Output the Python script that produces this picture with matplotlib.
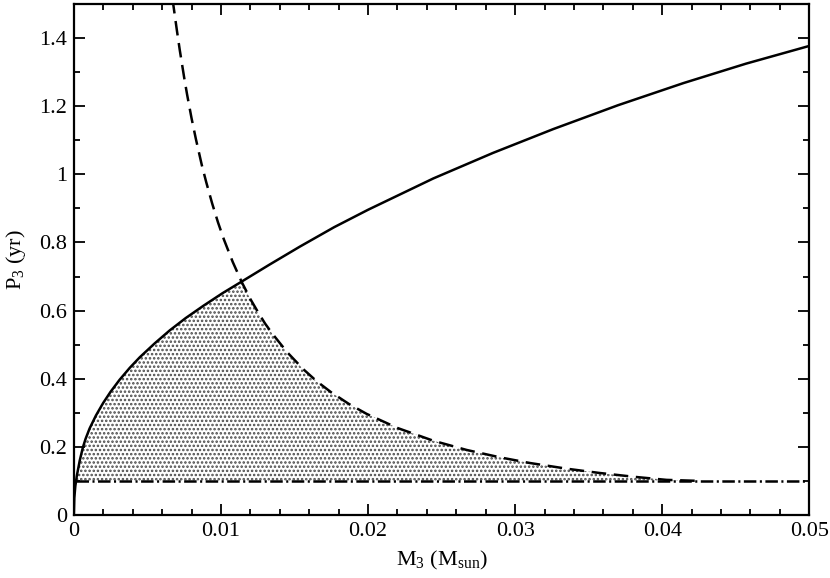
import numpy as np
import matplotlib
matplotlib.use('Agg')
import matplotlib.pyplot as plt
from matplotlib.ticker import MultipleLocator, FuncFormatter

# values
# solid curve (upper limit)
solid_m = np.array([0.0, 0.00003, 0.0001, 0.0002, 0.0004, 0.00061, 0.0008, 0.00107,
                    0.0015, 0.00198, 0.0025, 0.00311, 0.0038, 0.00448, 0.0055, 0.00652,
                    0.0076, 0.0088, 0.0101, 0.0114, 0.0133, 0.01537, 0.0177, 0.0200,
                    0.02444, 0.0285, 0.0326, 0.0370, 0.04145, 0.0457, 0.05])
solid_p = np.array([0.0, 0.050, 0.085, 0.115, 0.160, 0.198, 0.224, 0.254,
                    0.292, 0.328, 0.362, 0.397, 0.432, 0.463, 0.504, 0.542,
                    0.578, 0.614, 0.651, 0.685, 0.735, 0.788, 0.845, 0.896,
                    0.988, 1.063, 1.133, 1.203, 1.268, 1.325, 1.377])

# dashed curve
dash_m = np.array([0.0067, 0.0070, 0.0072, 0.0075, 0.0077, 0.0080, 0.0083, 0.0087,
                   0.0090, 0.0094, 0.0098, 0.0102, 0.0108, 0.0114, 0.0120, 0.0125,
                   0.0130, 0.0135, 0.0145, 0.0156, 0.0165, 0.0175, 0.0187, 0.0199,
                   0.0220, 0.02444, 0.0267, 0.0290, 0.0310, 0.0335, 0.0357, 0.03805,
                   0.0403, 0.0426])
dash_p = np.array([1.517, 1.424, 1.365, 1.284, 1.234, 1.165, 1.103, 1.027,
                   0.977, 0.915, 0.859, 0.809, 0.743, 0.685, 0.634, 0.597,
                   0.562, 0.532, 0.478, 0.428, 0.393, 0.360, 0.326, 0.297,
                   0.2555, 0.218, 0.191, 0.169, 0.1527, 0.136, 0.1236, 0.1123,
                   0.1031, 0.100])

# dash-dot lower limit
low_m = [0.00015, 0.05]
low_p = [0.1, 0.1]

# crossing of solid and dashed
m_cross = 0.0114

plt.rcParams['font.family'] = ['Liberation Serif', 'DejaVu Serif']
plt.rcParams['mathtext.fontset'] = 'custom'
plt.rcParams['mathtext.rm'] = 'Liberation Serif'
plt.rcParams['mathtext.it'] = 'Liberation Serif'
plt.rcParams['lines.scale_dashes'] = False
plt.rcParams['hatch.linewidth'] = 1.2

fig = plt.figure(figsize=(8.3, 5.78), dpi=100)
ax = fig.add_axes([0.089, 0.109, 0.886, 0.884])

# shaded allowed region
up = (solid_m <= m_cross) & (solid_p >= 0.1)
dn = dash_m > m_cross
poly_x = np.concatenate([low_m[:1], solid_m[up], dash_m[dn]])
poly_y = np.concatenate([low_p[:1], solid_p[up], dash_p[dn]])
ax.fill(poly_x, poly_y, facecolor='white', edgecolor='#4a4a4a', hatch='....', lw=0)

ax.plot(solid_m, solid_p, color='black', lw=1.8)
ax.plot(dash_m, dash_p, color='black', lw=1.8, dashes=(10.5, 5.5))
ax.plot(low_m, low_p, color='black', lw=1.8, dashes=(9, 2.5, 1.5, 2.5))

ax.set_xlim(0, 0.05)
ax.set_ylim(0, 1.5)
ax.xaxis.set_major_locator(MultipleLocator(0.01))
ax.xaxis.set_minor_locator(MultipleLocator(0.002))
ax.yaxis.set_major_locator(MultipleLocator(0.2))
ax.yaxis.set_minor_locator(MultipleLocator(0.1))

fmt = FuncFormatter(lambda v, pos: '0' if abs(v) < 1e-12 else ('%g' % round(v, 4)))
ax.xaxis.set_major_formatter(fmt)
ax.yaxis.set_major_formatter(fmt)

ax.tick_params(which='both', direction='in', top=True, right=True, labelsize=16, width=1.3)
ax.tick_params(which='major', length=8, pad=5)
ax.tick_params(which='minor', length=4.5)
for s in ax.spines.values():
    s.set_linewidth(1.6)

ax.set_xlabel(r'M$_3$ (M$_{\mathrm{sun}}$)', fontsize=16, labelpad=6)
ax.set_ylabel(r'P$_3$ (yr)', fontsize=16, labelpad=8)

fig.savefig('out.png', dpi=100)
